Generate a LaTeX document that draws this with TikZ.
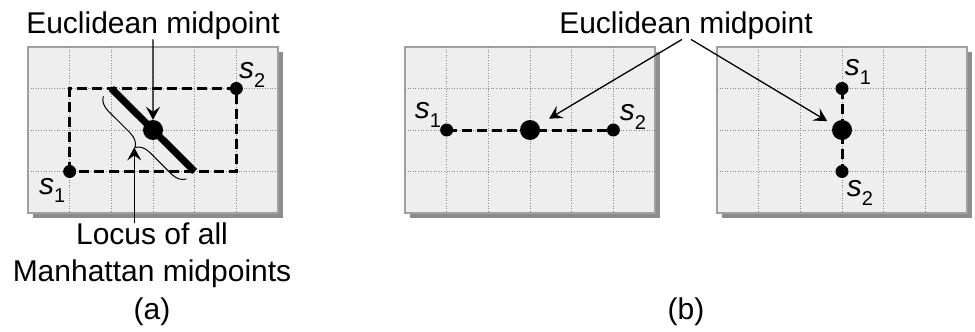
\documentclass[tikz,border=0pt]{standalone}
\usepackage{fontspec}
\setmainfont{Liberation Sans}
\usetikzlibrary{arrows.meta,positioning,decorations.pathreplacing,calc}
\definecolor{panelfill}{HTML}{EEEEEE}
\definecolor{panelrim}{HTML}{A0A0A0}
\definecolor{shade}{HTML}{8C8C8C}
\definecolor{gridgray}{HTML}{8A8A8A}
\newcommand{\sname}[1]{\textit{s}\raisebox{-0.28em}{\fontsize{20}{20}\selectfont #1}}
\tikzset{
  panelbox/.style={draw=panelrim,fill=panelfill,line width=1.2pt},
  panelshade/.style={fill=shade},
  gridline/.style={draw=gridgray,line width=0.8pt,dash pattern=on 1pt off 1.6pt},
  pathline/.style={line width=3pt,dash pattern=on 10pt off 5pt},
  sitedot/.style={circle,fill=black,inner sep=0pt,minimum size=13pt},
  middot/.style={circle,fill=black,inner sep=0pt,minimum size=20pt},
  captext/.style={font=\fontsize{30}{37}\selectfont,inner sep=0pt,align=center},
  ptr/.style={-{Stealth[length=13pt,width=14pt,inset=5pt]},line width=1.3pt},
  locusline/.style={line width=7pt},
  bracket/.style={decorate,decoration={brace,amplitude=14pt},line width=1pt}
}

\begin{document}
\begin{tikzpicture}[x=1pt,y=-1pt]
    \useasboundingbox (0,0) rectangle (975,332);
    % the three grid panels
    \foreach \px in {28,405,717}{
      \begin{scope}[shift={(\px,47)},x=41.67pt,y=-41.5pt]
        \fill[panelshade] (0.12,0.12) rectangle (6.12,4.12);
        \draw[panelbox] (0,0) rectangle (6,4);
        \foreach \c in {1,...,5} \draw[gridline] (\c,0) -- (\c,4);
        \foreach \r in {1,2,3} \draw[gridline] (0,\r) -- (6,\r);
      \end{scope}
    }
    % (a)
    \begin{scope}[shift={(28,47)},x=41.67pt,y=-41.5pt]
      \draw[pathline] (1,3) rectangle (5,1);
      \draw[locusline] (2,1) -- (4,3);
      \draw[bracket] (3.8,3.18) -- (1.8,1.18);
      \coordinate (btip) at (2.55,2.42);
      \node[sitedot] (s1a) at (1,3) {};
      \node[sitedot] (s2a) at (5,1) {};
      \node[middot] (ma) at (3,2) {};
      \node[captext] at (0.58,3.45) {\sname{1}};
      \node[captext] at (5.38,0.67) {\sname{2}};
    \end{scope}
    % (b), horizontal pair
    \begin{scope}[shift={(405,47)},x=41.67pt,y=-41.5pt]
      \draw[pathline] (1,2) -- (5,2);
      \node[sitedot] (s1b) at (1,2) {};
      \node[sitedot] (s2b) at (5,2) {};
      \node[middot] (mb) at (3,2) {};
      \node[captext] at (0.55,1.64) {\sname{1}};
      \node[captext] at (5.47,1.69) {\sname{2}};
    \end{scope}
    % (b), vertical pair
    \begin{scope}[shift={(717,47)},x=41.67pt,y=-41.5pt]
      \draw[pathline] (3,1) -- (3,3);
      \node[sitedot] (s1c) at (3,1) {};
      \node[sitedot] (s2c) at (3,3) {};
      \node[middot] (mc) at (3,2) {};
      \node[captext] at (3.38,0.6) {\sname{1}};
      \node[captext] at (3.43,3.52) {\sname{2}};
    \end{scope}
    % captions and pointers
    \node[captext,anchor=base] (ea) at (153,33) {Euclidean midpoint};
    \node[captext,anchor=north] (loc) at (152,223) {Locus of all\\Manhattan midpoints};
    \node[captext,anchor=base] (capa) at (152,319) {(a)};
    \node[captext,anchor=base] (eb) at (686,33) {Euclidean midpoint};
    \node[captext,anchor=base] (capb) at (686,319) {(b)};
    \draw[ptr] (ea.south) -- (ma.north);
    \draw[ptr] (btip |- loc.north) -- (btip);
    \draw[ptr,shorten >=12pt] ([xshift=-4pt]eb.south) -- (mb);
    \draw[ptr,shorten >=7pt] ([xshift=5pt]eb.south) -- (mc);
  \end{tikzpicture}
\end{document}
